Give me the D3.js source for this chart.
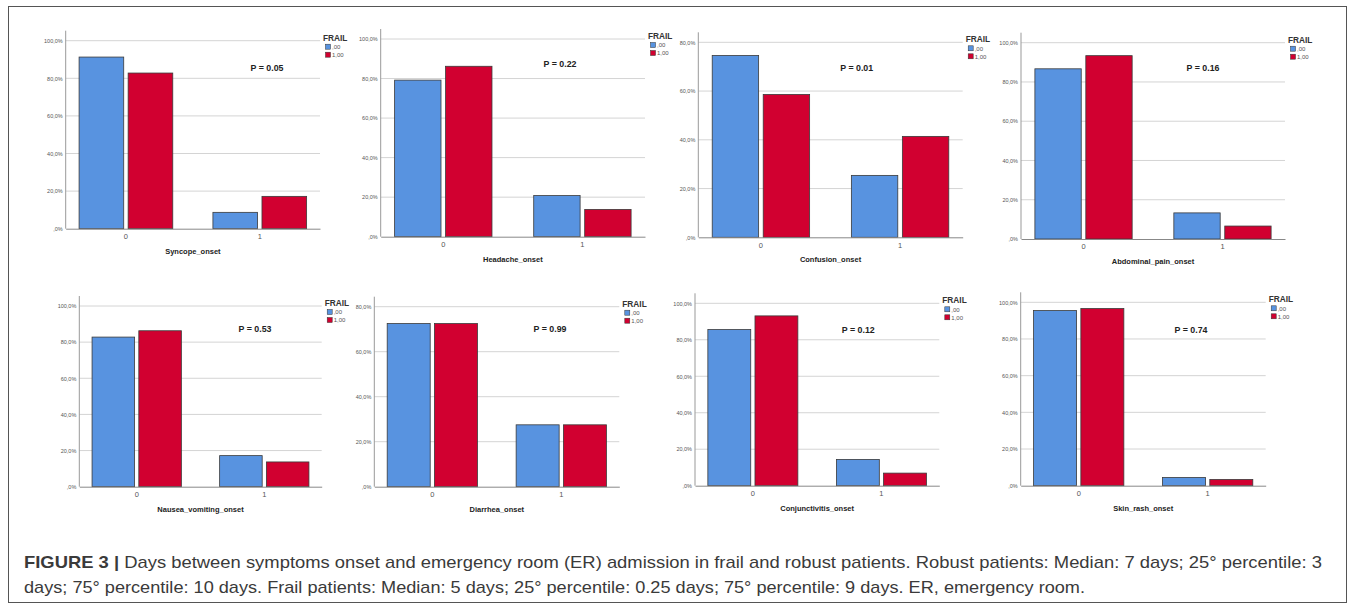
<!DOCTYPE html>
<html><head><meta charset="utf-8">
<script src="https://cdn.jsdelivr.net/npm/d3@7"></script>
<style>body{margin:0;background:#fff}svg{display:block}</style>
</head><body><svg id="c" width="1357" height="606"></svg>
<script>
// ---------- DATA ----------
const symptoms = ["Syncope_onset","Headache_onset","Confusion_onset","Abdominal_pain_onset",
                  "Nausea_vomiting_onset","Diarrhea_onset","Conjunctivitis_onset","Skin_rash_onset"];
const pValues  = ["P = 0.05","P = 0.22","P = 0.01","P = 0.16","P = 0.53","P = 0.99","P = 0.12","P = 0.74"];
const categories = ["0","1"];
const groups = [",00","1,00"];            // FRAIL levels (robust, frail)
const robustAt0 = [91.3, 79.2, 74.6, 86.7, 82.8, 72.5, 85.6, 95.5];
const robustAt1 = [8.7, 20.8, 25.4, 13.3, 17.2, 27.5, 14.4, 4.5];
const frailAt0  = [82.8, 86.2, 58.6, 93.4, 86.3, 72.5, 93.1, 96.6];
const frailAt1  = [17.2, 13.8, 41.4, 6.6, 13.7, 27.5, 6.9, 3.4];
const yMaxes    = [100, 100, 80, 100, 100, 80, 100, 100];
const legendTitle = "FRAIL";
const captionBold = "FIGURE 3 | ";
const captionLine1 = "Days between symptoms onset and emergency room (ER) admission in frail and robust patients. Robust patients: Median: 7 days; 25° percentile: 3";
const captionLine2 = "days; 75° percentile: 10 days. Frail patients: Median: 5 days; 25° percentile: 0.25 days; 75° percentile: 9 days. ER, emergency room.";

// ---------- LAYOUT ----------
const layout = [
  {l:65.7, t:40.7, b:228.7, r:320,   px:267,   py:68},
  {l:380.7,t:39,   b:236.7, r:645,   px:560,   py:64},
  {l:698.3,t:42.3, b:237.3, r:962.7, px:856.7, py:67.7},
  {l:1021, t:42.7, b:239,   r:1285,  px:1203,  py:68},
  {l:79.3, t:306,  b:486.7, r:321.7, px:255,   py:329},
  {l:374.3,t:306.7,b:486.7, r:619.3, px:550,   py:329},
  {l:695,  t:303.3,b:485.7, r:939.3, px:858.3, py:329.3},
  {l:1020.7,t:302.3,b:485.7,r:1265.7,px:1191,  py:329.3}
];
const colors = {",00":"#5893e0","1,00":"#d10030"};
const FONT = "Liberation Sans, Arial, sans-serif";

const svg = d3.select("#c");
svg.append("rect").attr("x",8.5).attr("y",6.5).attr("width",1338).attr("height",596)
   .attr("fill","none").attr("stroke","#555").attr("stroke-width",1);

const fmt = v => (v === 0 ? "" : String(Math.floor(v))) + "," + "0%";

symptoms.forEach((name, i) => {
  const L = layout[i];
  const g = svg.append("g");
  const y = d3.scaleLinear().domain([0, yMaxes[i]]).range([L.b, L.t]);
  const x0 = d3.scaleBand().domain(categories).range([L.l, L.r]).paddingInner(0.3).paddingOuter(0.1);
  const x1 = d3.scaleBand().domain(groups).range([0, x0.bandwidth()]).paddingInner(0.09);
  const ticks = d3.range(0, yMaxes[i] + 1, 20);

  // gridlines
  g.selectAll(".grid").data(ticks.filter(t => t > 0)).join("line")
    .attr("x1", L.l).attr("x2", L.r).attr("y1", d => y(d)).attr("y2", d => y(d))
    .attr("stroke", "#d4d4d4").attr("stroke-width", 1);

  // y axis
  const ya = g.append("g").attr("transform", `translate(${L.l},0)`)
    .call(d3.axisLeft(y).tickValues(ticks).tickSize(0).tickPadding(3).tickFormat(fmt));
  ya.select(".domain").remove();
  ya.selectAll("text").attr("font-family", FONT)
    .attr("font-size", 5.5).attr("fill", "#555");
  g.append("line").attr("x1", L.l).attr("x2", L.l).attr("y1", L.b).attr("y2", L.t - 10)
    .attr("stroke", "#999").attr("stroke-width", 1);

  // bars
  const rows = categories.map((c, ci) => ({
    cat: c,
    vals: [{grp: groups[0], v: ci === 0 ? robustAt0[i] : robustAt1[i]},
           {grp: groups[1], v: ci === 0 ? frailAt0[i]  : frailAt1[i]}]
  }));
  rows.forEach(row => {
    g.selectAll(null).data(row.vals).join("rect")
      .attr("x", d => x0(row.cat) + x1(d.grp))
      .attr("width", x1.bandwidth())
      .attr("y", d => y(d.v))
      .attr("height", d => y(0) - y(d.v))
      .attr("fill", d => colors[d.grp])
      .attr("stroke", "#3a3a3a").attr("stroke-width", 0.8);
  });

  // x axis
  const xa = g.append("g").attr("transform", `translate(0,${L.b})`)
    .call(d3.axisBottom(x0).tickSize(0).tickPadding(5));
  xa.select(".domain").attr("stroke", "#888");
  xa.selectAll("text").attr("font-family", FONT)
    .attr("font-size", 7.5).attr("fill", "#555");

  // axis title
  g.append("text").attr("x", (L.l + L.r) / 2).attr("y", L.b + 25)
    .attr("text-anchor", "middle").attr("font-family", FONT)
    .attr("font-weight", "bold").attr("font-size", 7.5).attr("fill", "#222").text(name);

  // p value
  g.append("text").attr("x", L.px).attr("y", L.py + 3.2)
    .attr("text-anchor", "middle").attr("font-family", FONT)
    .attr("font-weight", "bold").attr("font-size", 8.8).attr("fill", "#222").text(pValues[i]);

  // legend
  const lg = g.append("g").attr("transform", `translate(${L.r + 3},${L.t})`);
  lg.append("text").attr("x", 0).attr("y", 0).attr("font-family", FONT)
    .attr("font-weight","bold").attr("font-size", 8.3).attr("fill","#333").text(legendTitle);
  groups.forEach((gr, k) => {
    lg.append("rect").attr("x", 2.5).attr("y", 3.5 + k * 8).attr("width", 5).attr("height", 5)
      .attr("fill", colors[gr]).attr("stroke", "#333").attr("stroke-width", 0.5);
    lg.append("text").attr("x", 9).attr("y", 8.3 + k * 8).attr("font-family", FONT)
      .attr("font-size", 6).attr("fill", "#555").text(gr);
  });
});

// caption
const cap1 = svg.append("text").attr("x", 24).attr("y", 568)
  .attr("font-family", FONT).attr("font-size", 17).attr("fill", "#3a3a3a")
  .attr("textLength", 1298).attr("lengthAdjust", "spacingAndGlyphs");
cap1.append("tspan").attr("font-weight", "bold").text(captionBold);
cap1.append("tspan").text(captionLine1);
svg.append("text").attr("x", 24).attr("y", 593)
  .attr("font-family", FONT).attr("font-size", 17).attr("fill", "#3a3a3a")
  .attr("textLength", 1061).attr("lengthAdjust", "spacingAndGlyphs").text(captionLine2);
</script></body></html>
